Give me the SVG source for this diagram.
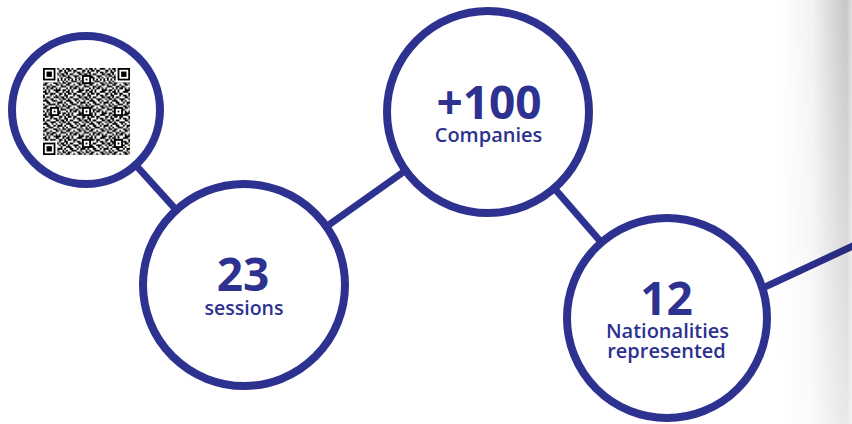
<svg xmlns="http://www.w3.org/2000/svg" width="852" height="424" viewBox="0 0 852 424">
<style>
.node circle{fill:#fff;stroke:#2d3190;stroke-width:8}
.conn line{stroke:#2d3190;stroke-width:7}
.num{font-family:"Open Sans","Liberation Sans",sans-serif;font-weight:700;font-size:46px;fill:#2d3190;text-anchor:middle}
.lbl{font-family:"Open Sans","Liberation Sans",sans-serif;font-weight:600;font-size:20px;fill:#2d3190;text-anchor:middle}
</style>
<defs>
<pattern id="qrp" patternUnits="userSpaceOnUse" x="0" y="0" width="13" height="13">
<path fill="#000" d="M0 0h2v1h-2zM3 0h1v1h-1zM6 0h3v1h-3zM11 0h1v1h-1zM1 1h2v1h-2zM4 1h2v1h-2zM9 1h2v1h-2zM12 1h1v1h-1zM0 2h1v1h-1zM4 2h1v1h-1zM6 2h2v1h-2zM9 2h1v1h-1zM12 2h1v1h-1zM0 3h1v1h-1zM2 3h2v1h-2zM7 3h2v1h-2zM10 3h2v1h-2zM1 4h1v1h-1zM4 4h3v1h-3zM9 4h1v1h-1zM11 4h2v1h-2zM0 5h3v1h-3zM5 5h1v1h-1zM7 5h1v1h-1zM10 5h1v1h-1zM2 6h2v1h-2zM6 6h1v1h-1zM8 6h3v1h-3zM12 6h1v1h-1zM0 7h1v1h-1zM3 7h3v1h-3zM8 7h1v1h-1zM11 7h1v1h-1zM1 8h2v1h-2zM6 8h2v1h-2zM9 8h1v1h-1zM11 8h2v1h-2zM0 9h2v1h-2zM4 9h1v1h-1zM7 9h2v1h-2zM10 9h1v1h-1zM2 10h2v1h-2zM5 10h2v1h-2zM10 10h3v1h-3zM0 11h1v1h-1zM2 11h1v1h-1zM4 11h2v1h-2zM7 11h1v1h-1zM9 11h1v1h-1zM1 12h1v1h-1zM3 12h1v1h-1zM7 12h3v1h-3zM11 12h2v1h-2z"/>
</pattern>
<pattern id="th" patternUnits="userSpaceOnUse" width="2" height="1"><rect width="1" height="1" fill="#000"/><rect x="1" width="1" height="1" fill="#fff"/></pattern>
<pattern id="tv" patternUnits="userSpaceOnUse" width="1" height="2"><rect width="1" height="1" fill="#000"/><rect y="1" width="1" height="1" fill="#fff"/></pattern>
<g id="finder"><rect x="-1" y="-1" width="9" height="9" fill="#fff"/><rect width="7" height="7" fill="#000"/><rect x="1" y="1" width="5" height="5" fill="#fff"/><rect x="2" y="2" width="3" height="3" fill="#000"/></g>
<g id="align"><rect x="-2" y="-2" width="5" height="5" fill="#000"/><rect x="-1" y="-1" width="3" height="3" fill="#fff"/><rect width="1" height="1" fill="#000"/></g>
<linearGradient id="shade" gradientUnits="userSpaceOnUse" x1="780" y1="0" x2="852" y2="0">
<stop offset="0" stop-color="#000" stop-opacity="0"/>
<stop offset="0.45" stop-color="#000" stop-opacity="0.05"/>
<stop offset="0.85" stop-color="#000" stop-opacity="0.2"/>
<stop offset="0.93" stop-color="#000" stop-opacity="0.22"/>
<stop offset="1" stop-color="#000" stop-opacity="0.12"/>
</linearGradient>
<linearGradient id="vfade" x1="0" y1="0" x2="0" y2="1">
<stop offset="0" stop-color="#fff" stop-opacity="1"/>
<stop offset="1" stop-color="#fff" stop-opacity="0.4"/>
</linearGradient>
<mask id="vmask" maskUnits="userSpaceOnUse" x="770" y="0" width="82" height="424"><rect x="770" y="0" width="82" height="424" fill="url(#vfade)"/></mask>
</defs>
<rect width="852" height="424" fill="#fff"/>
<g id="connectors" class="conn">
<line x1="86" y1="110" x2="244" y2="285"/>
<line x1="244" y1="285" x2="488" y2="112"/>
<line x1="488" y1="112" x2="667" y2="318"/>
<line x1="720" y1="308" x2="870" y2="238"/>
</g>
<g id="node-qr" class="node">
<circle cx="86" cy="110" r="74"/>
<g transform="translate(43,68) scale(1.776)">
<rect width="49" height="49" fill="url(#qrp)"/>
<rect x="8" y="6" width="33" height="1" fill="url(#th)"/>
<rect x="6" y="8" width="1" height="33" fill="url(#tv)"/>
<use href="#align" x="24" y="24"/>
<use href="#align" x="24" y="42"/>
<use href="#align" x="42" y="24"/>
<use href="#align" x="42" y="42"/>
<use href="#align" x="6" y="24"/>
<use href="#align" x="24" y="6"/>
<use href="#finder" x="0" y="0"/>
<use href="#finder" x="42" y="0"/>
<use href="#finder" x="0" y="42"/>
</g>
</g>
<g id="node-sessions" class="node">
<circle cx="244" cy="285" r="101"/>
<text class="num" x="243" y="291">23</text>
<text class="lbl" x="244" y="315" style="font-size:19.5px">sessions</text>
</g>
<g id="node-companies" class="node">
<circle cx="488" cy="112" r="101"/>
<text class="num" x="489" y="119">+100</text>
<text class="lbl" x="488.5" y="142">Companies</text>
</g>
<g id="node-nationalities" class="node">
<circle cx="667" cy="318" r="100"/>
<text class="num" x="666.5" y="315">12</text>
<text class="lbl" x="667.5" y="338">Nationalities</text>
<text class="lbl" x="666.5" y="358">represented</text>
</g>
<rect x="770" y="0" width="82" height="424" fill="url(#shade)" mask="url(#vmask)"/>
</svg>
